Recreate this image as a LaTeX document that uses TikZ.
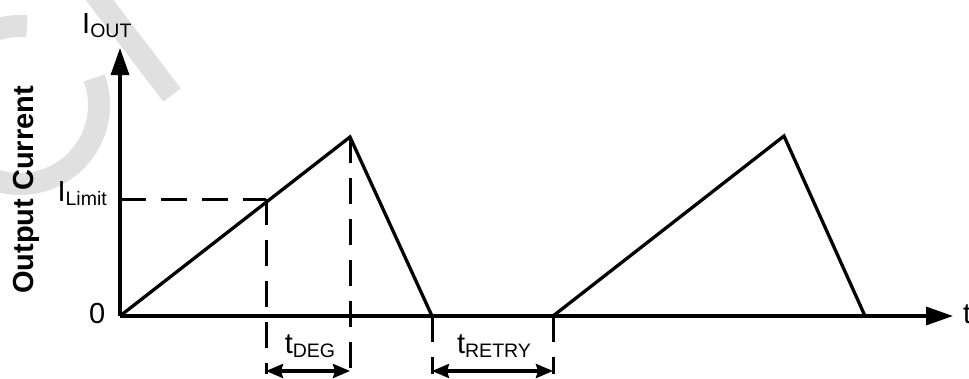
\documentclass[tikz,border=0pt]{standalone}
\usepackage{fontspec}
\setmainfont{Liberation Sans}
\usetikzlibrary{arrows.meta}
\newcommand\subtxt[1]{\raisebox{-4pt}{\fontsize{19.5}{22}\selectfont #1}}
\tikzset{
  axisline/.style={line width=3.3pt, -{Triangle[length=27pt,width=18pt]}},
  wave/.style={line width=3.3pt, line join=miter},
  dashln/.style={line width=3pt, dash pattern=on 26pt off 15pt},
  dimarrow/.style={line width=3.3pt, {Stealth[length=17pt,width=14pt,inset=2pt]}-{Stealth[length=17pt,width=14pt,inset=2pt]}},
  lbl/.style={inner sep=0pt, font=\fontsize{29}{33}\selectfont},
  wmark/.style={line width=22pt, draw=black!12},
}
\begin{document}
\begin{tikzpicture}[x=1pt,y=-1pt]
\path[use as bounding box] (0,0) rectangle (969,378);
\clip (0,0) rectangle (969,378);
% watermark fragments
\draw[wmark] (20,105) ++(-20:79) arc[start angle=-20, end angle=275, radius=79];
\draw[wmark, line cap=butt] (92,-10) -- (172,95);
% points
\coordinate (O) at (120,316);
\coordinate (ytop) at (120,48);
\coordinate (xend) at (953,316);
\coordinate (lim) at (266,199);
\coordinate (limy) at (120,199);
\coordinate (p1) at (350,137);
\coordinate (z1) at (432,316);
\coordinate (r1) at (553,316);
\coordinate (p2) at (784,136);
\coordinate (z2) at (865,316);
\coordinate (d1) at (266,371);
\coordinate (d2) at (350,371);
\coordinate (d3) at (432,371);
\coordinate (d4) at (553,371);
\coordinate (d1t) at (266,374);
\coordinate (d2t) at (350,374);
\coordinate (d3t) at (432,374);
\coordinate (d4t) at (553,374);
% dashed guides
\draw[dashln] (limy) -- (lim);
\draw[dashln] (lim) -- (d1t);
\draw[dashln] (p1) -- (d2t);
\draw[dashln] (z1) -- (d3t);
\draw[dashln] (r1) -- (d4t);
% axes
\draw[axisline] (O) -- (ytop);
\draw[axisline] (O) -- (xend);
% waveform
\draw[wave] (O) -- (p1) -- (z1) -- (r1) -- (p2) -- (z2);
% dimension arrows
\draw[dimarrow] (d1) -- (d2);
\draw[dimarrow] (d3) -- (d4);
% labels
\node[lbl, anchor=base west] (iout) at (82,33) {I\subtxt{OUT}};
\node[lbl, anchor=base east] (ilim) at (107,201) {I\subtxt{Limit}};
\node[lbl, anchor=base east] (zero) at (105.5,323) {0};
\node[lbl, anchor=base west] (tlab) at (963,323) {t};
\node[lbl, anchor=base] (tdeg) at (310,353) {t\subtxt{DEG}};
\node[lbl, anchor=base] (tret) at (494,353) {t\subtxt{RETRY}};
\node[lbl, anchor=base, rotate=90, font=\fontsize{29}{33}\selectfont\bfseries] (ylab) at (33,190) {Output Current};
\end{tikzpicture}
\end{document}
